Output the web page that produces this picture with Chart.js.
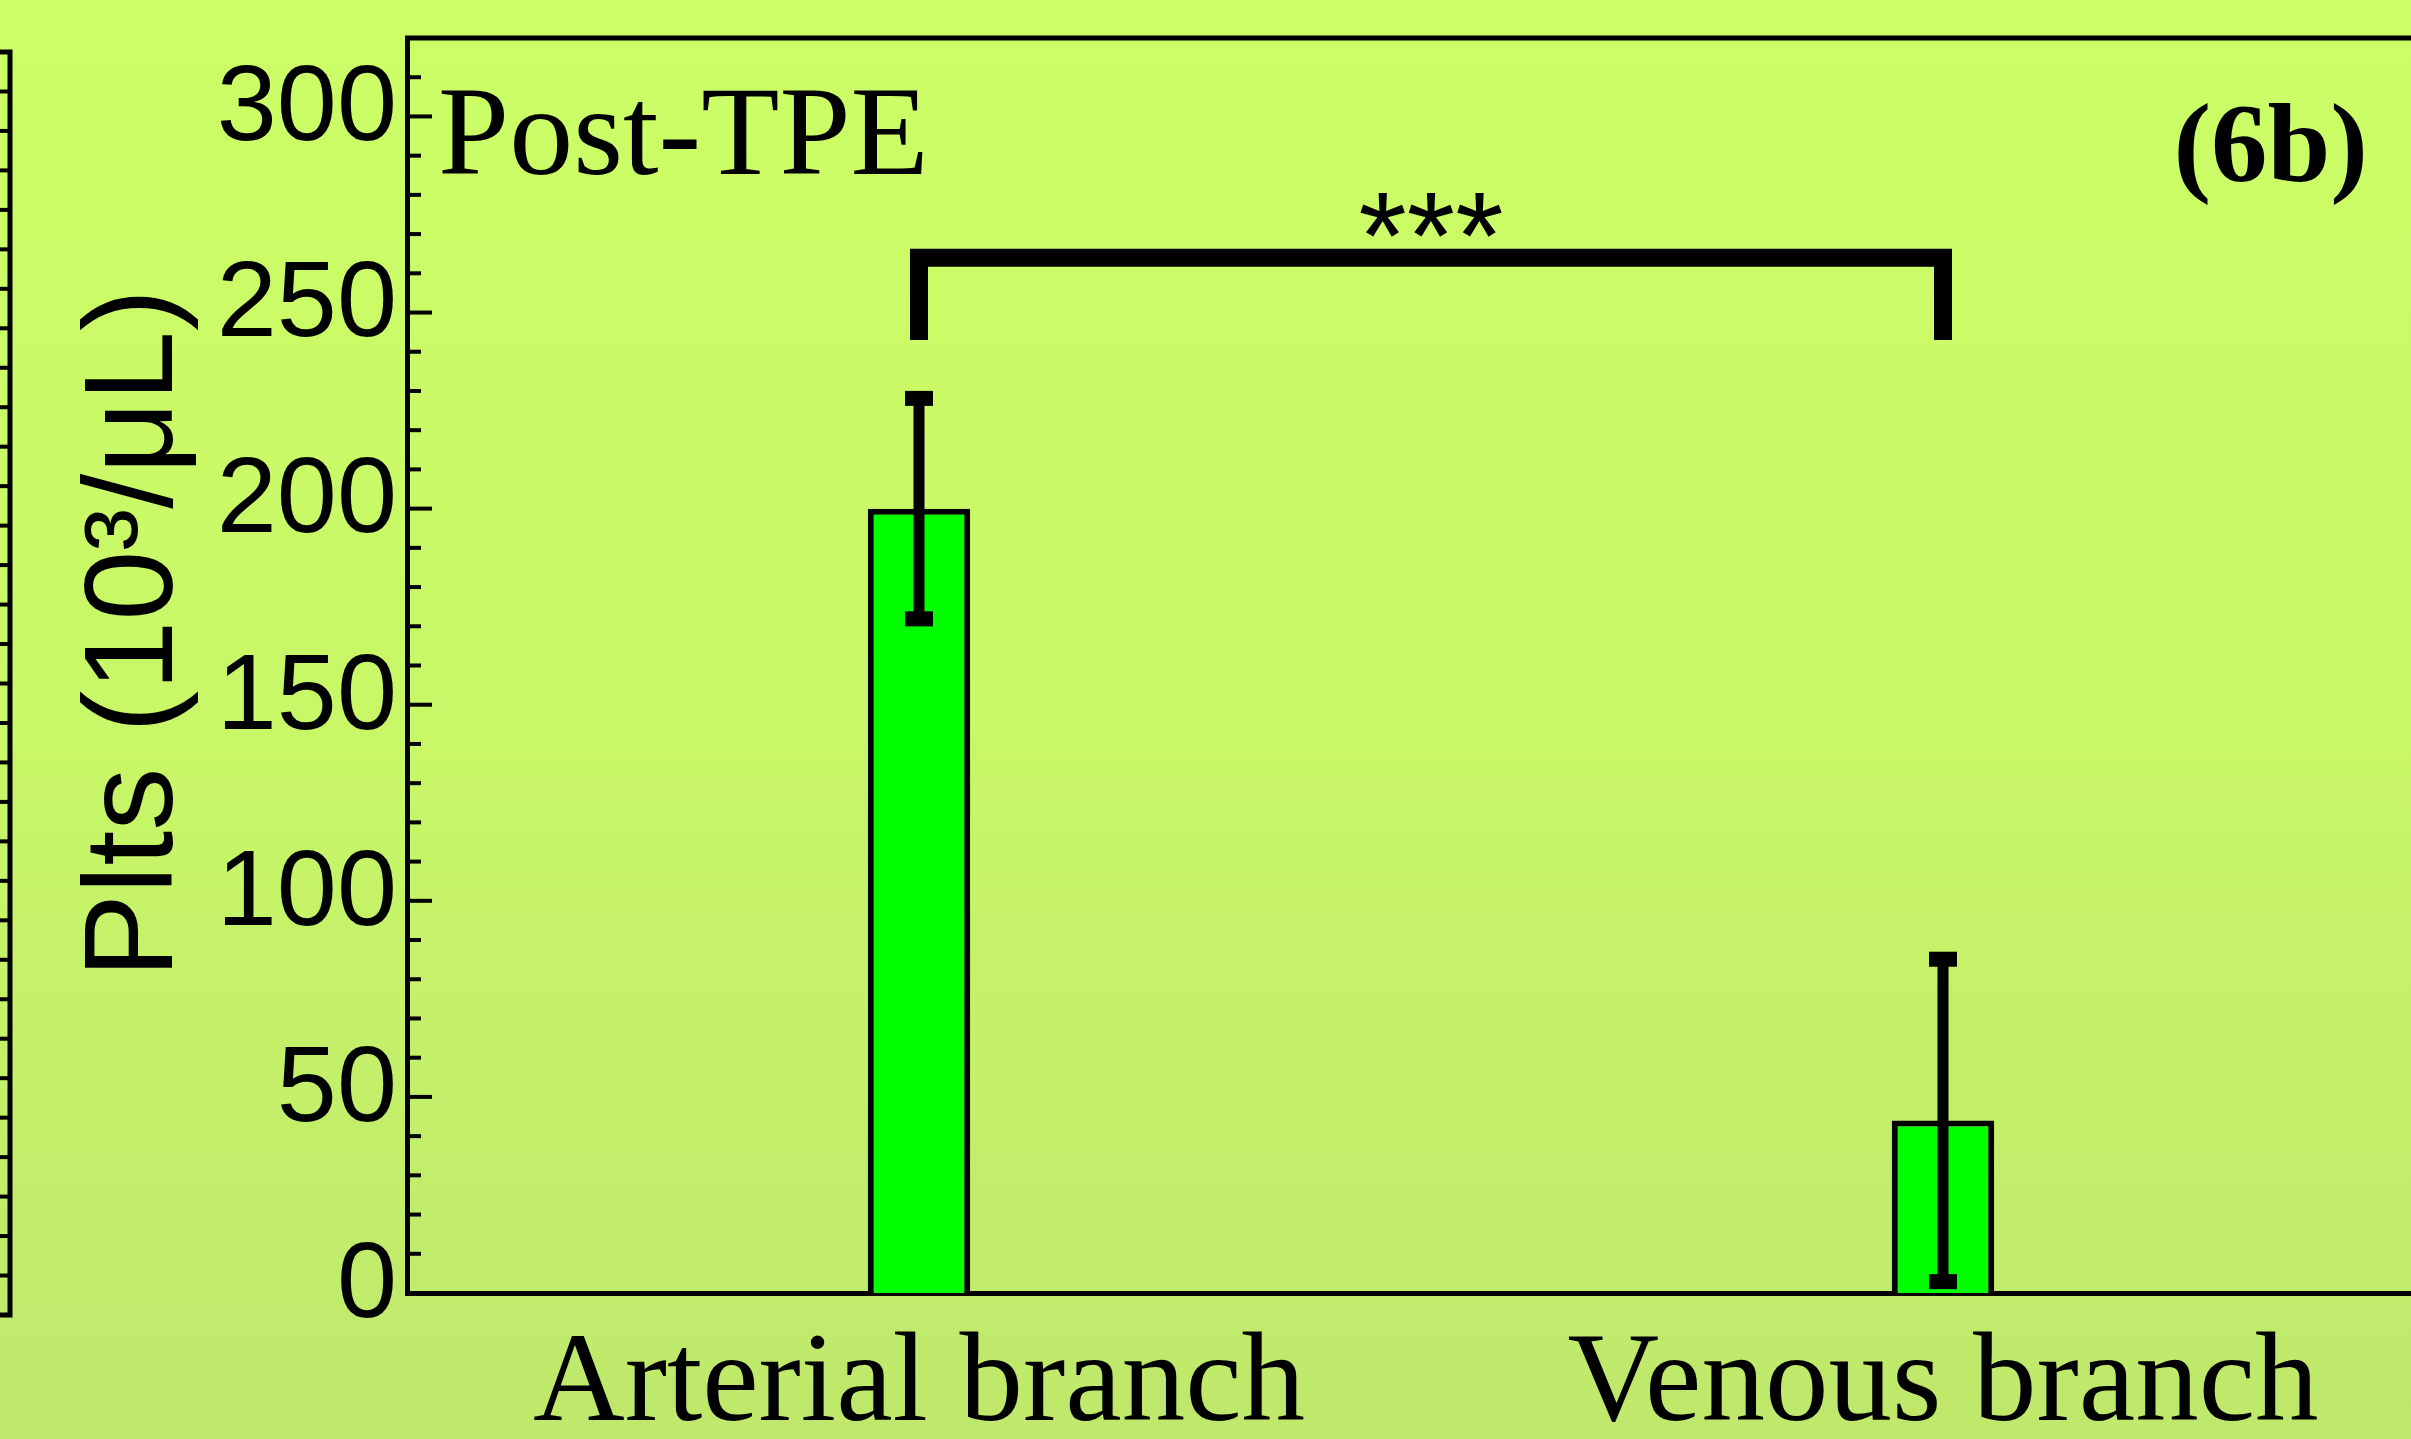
<!DOCTYPE html>
<html>
<head>
<meta charset="utf-8">
<script src="https://cdn.jsdelivr.net/npm/chart.js@4.4.1/dist/chart.umd.min.js"></script>
<style>
html,body{margin:0;padding:0;overflow:hidden;width:2411px;height:1439px}
body{background:linear-gradient(to bottom,#ccfe66 0%,#c8f767 50%,#bfe86c 100%)}
#wrap{position:absolute;left:0;top:0;width:2470px;height:1439px}
</style>
</head>
<body>
<div id="wrap"><canvas id="plts" width="2470" height="1439"></canvas></div>
<script>
const categories=["Arterial branch","Venous branch"]
const means=[200,44]
const errors=[29,42]
const yTicks=[0,50,100,150,200,250,300]
const yTitle="Plts (10³/μL)"
const panelText="Post-TPE"
const panelTag="(6b)"
// significance bracket, in data units
const bracket={from:0,to:1,top:264,leg:243,label:"***",labelAt:276}

const deco={
 id:"deco",
 afterDraw(chart){
  const {ctx,chartArea:a,scales:{x,y}}=chart
  ctx.save()
  ctx.strokeStyle="#000"
  ctx.fillStyle="#000"
  ctx.lineCap="butt"

  // edge of the neighbouring panel
  ctx.lineWidth=5
  ctx.beginPath()
  ctx.moveTo(0,52);ctx.lineTo(10,52);ctx.lineTo(10,1315);ctx.lineTo(0,1315)
  ctx.stroke()
  ctx.lineWidth=4
  for(let k=1;k<32;k++){
   const py=52+k*(1263/32)
   ctx.beginPath();ctx.moveTo(0,py);ctx.lineTo(10,py);ctx.stroke()
  }

  // top frame
  ctx.lineWidth=5
  ctx.beginPath();ctx.moveTo(a.left-2,a.top);ctx.lineTo(a.right,a.top);ctx.stroke()

  // inward ticks
  ctx.lineWidth=4
  for(let v=10;v<y.max;v+=10){
   const py=y.getPixelForValue(v)
   const len=v%50===0?25:14
   ctx.beginPath();ctx.moveTo(a.left,py);ctx.lineTo(a.left+len,py);ctx.stroke()
  }

  // error bars
  means.forEach((m,i)=>{
   const px=x.getPixelForValue(i)
   const hi=y.getPixelForValue(m+errors[i])
   const lo=y.getPixelForValue(m-errors[i])
   ctx.lineWidth=11
   ctx.beginPath();ctx.moveTo(px,hi);ctx.lineTo(px,lo);ctx.stroke()
   ctx.fillRect(px-14,hi-4,28,15)
   ctx.fillRect(px-14,lo-11,28,15)
  })

  // bracket
  const bx0=x.getPixelForValue(bracket.from)
  const bx1=x.getPixelForValue(bracket.to)
  const bt=y.getPixelForValue(bracket.top)
  const bl=y.getPixelForValue(bracket.leg)
  ctx.lineWidth=18
  ctx.lineJoin="miter"
  ctx.beginPath();ctx.moveTo(bx0,bl);ctx.lineTo(bx0,bt);ctx.lineTo(bx1,bt);ctx.lineTo(bx1,bl);ctx.stroke()
  ctx.font="124px 'Liberation Sans'"
  ctx.textAlign="center"
  ctx.textBaseline="alphabetic"
  ctx.fillText(bracket.label,(bx0+bx1)/2,y.getPixelForValue(bracket.labelAt)+68)

  // panel texts
  ctx.font="128px 'Liberation Serif'"
  ctx.textAlign="left"
  ctx.fillText(panelText,a.left+31,a.top+136)
  ctx.font="bold 113px 'Liberation Serif'"
  ctx.textAlign="right"
  ctx.fillText(panelTag,a.right-87,a.top+143)

  // y title
  ctx.translate(172,(a.top+a.bottom)/2-32)
  ctx.rotate(-Math.PI/2)
  ctx.font="126px 'Liberation Sans'"
  ctx.textAlign="center"
  ctx.fillText(yTitle,0,0)
  ctx.restore()
 }
}

Chart.defaults.color="#000"

new Chart(document.getElementById("plts"),{
 type:"bar",
 data:{
  labels:categories,
  datasets:[{
   label:"Plts",
   data:means,
   backgroundColor:"#00ff00",
   borderColor:"#000",
   borderWidth:6,
   barPercentage:1,
   categoryPercentage:0.1
  }]
 },
 options:{
  responsive:false,
  animation:false,
  devicePixelRatio:1,
  layout:{padding:{top:38,right:15,left:0,bottom:0}},
  plugins:{legend:{display:false},tooltip:{enabled:false}},
  scales:{
   x:{
    grid:{display:false},
    border:{display:true,color:"#000",width:5},
    ticks:{font:{family:"Liberation Serif",size:127},color:"#000",padding:9,maxRotation:0,autoSkip:false},
    afterFit(s){s.height=146;s.paddingLeft=0;s.paddingRight=0}
   },
   y:{
    min:0,max:320,
    grid:{display:false,drawTicks:false},
    border:{display:true,color:"#000",width:5},
    ticks:{font:{family:"Liberation Sans",size:108},color:"#000",padding:10,labelOffset:-6,stepSize:50},
    afterBuildTicks(s){s.ticks=yTicks.map(v=>({value:v}))},
    afterFit(s){s.width=407;s.paddingTop=0;s.paddingBottom=0}
   }
  }
 },
 plugins:[deco]
})
</script>
</body>
</html>
